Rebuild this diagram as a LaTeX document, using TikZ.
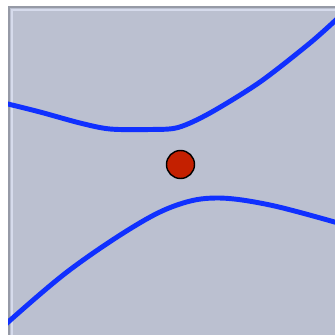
\documentclass[tikz,border=0pt]{standalone}
\usepackage{xcolor}
\usepackage{tikz}
\definecolor{panelColor}{RGB}{187, 192, 208}
\definecolor{edgeDark}{RGB}{150, 154, 166}
\definecolor{edgeLight}{RGB}{214, 219, 236}
\definecolor{lineColor}{RGB}{16, 48, 255}
\definecolor{dotColor}{RGB}{196, 32, 0}

\begin{document}
\begin{tikzpicture}[x=0.03cm, y=-0.03cm,
    branch/.style={draw=lineColor, line width=4.2pt, line join=round},
    dot/.style={circle, draw=black, line width=1.2pt, fill=dotColor, minimum size=0.84cm, inner sep=0pt}]

    \useasboundingbox (0,0) rectangle (335,335);
    \fill[white] (0,0) rectangle (335,335);
    \fill[panelColor] (8,6) rectangle (335,335);
    % bevelled frame
    \draw[edgeDark, line width=1.6pt] (9,335) -- (9,7) -- (335,7);
    \draw[edgeLight, line width=2pt] (12,335) -- (12,10) -- (335,10);

    \begin{scope}
    \clip (8,6) rectangle (335,335);
    \draw[branch] plot[smooth, tension=0.5] coordinates {(6,103.5) (40,112) (80,123) (110,129) (150,129.5) (178,127.5) (210,113) (260,82) (310,43) (338,18)};
    \draw[branch] plot[smooth, tension=0.6] coordinates {(6,324) (67,272) (133,227) (177,205) (217,198) (270,205) (338,223)};
    \end{scope}

    \node (center) [dot] at (180.5,164.5) {};

\end{tikzpicture}
\end{document}
